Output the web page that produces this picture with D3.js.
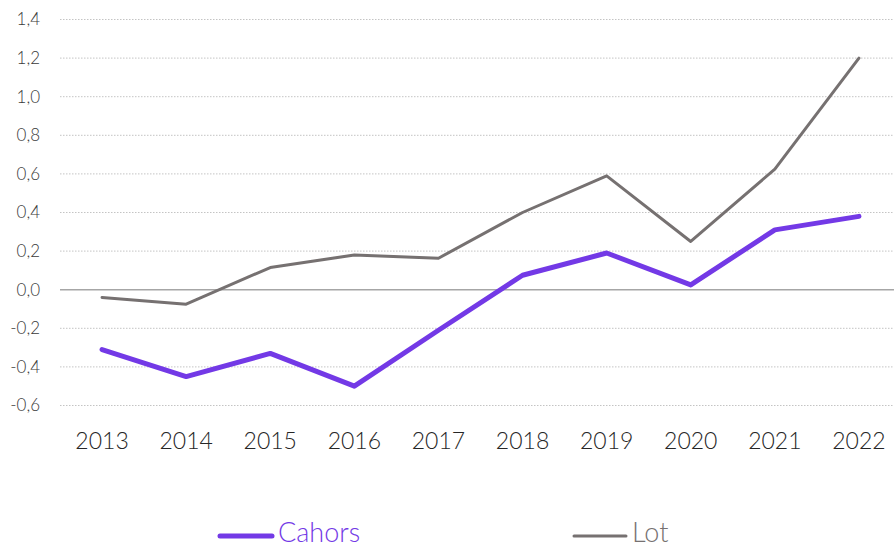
<!DOCTYPE html>
<html><head><meta charset="utf-8">
<script src="https://cdn.jsdelivr.net/npm/d3@7/dist/d3.min.js"></script>
<style>
body{margin:0;background:#fff;}
svg{display:block;font-family:"Lato","Open Sans",sans-serif;}
</style></head>
<body><svg id="c" width="894" height="548"></svg>
<script>
const years = ["2013","2014","2015","2016","2017","2018","2019","2020","2021","2022"];
const cahors = [-0.31,-0.45,-0.33,-0.50,-0.21,0.075,0.19,0.025,0.31,0.38];
const lot = [-0.04,-0.075,0.115,0.18,0.163,0.40,0.59,0.25,0.625,1.20];
const yTicks = [-0.6,-0.4,-0.2,0.0,0.2,0.4,0.6,0.8,1.0,1.2,1.4];
const seriesNames = ["Cahors","Lot"];

const svg = d3.select("#c");
const x = d3.scaleBand().domain(years).range([60,901]);
const y = d3.scaleLinear().domain([-0.6,1.4]).range([405.5,19.5]);
const fmt = d => d3.format(".1f")(d).replace(".",",").replace("−","-");

// gridlines
svg.append("g").selectAll("line").data(yTicks.filter(d=>d!==0)).join("line")
  .attr("x1",60).attr("x2",894).attr("y1",d=>y(d)).attr("y2",d=>y(d))
  .attr("stroke","#c4c4c4").attr("stroke-width",1).attr("stroke-dasharray","1.5,1.5");
svg.append("line").attr("x1",60).attr("x2",894).attr("y1",y(0)).attr("y2",y(0))
  .attr("stroke","#a6a6a6").attr("stroke-width",1.5);

// y axis
const yAxis = d3.axisLeft(y).tickValues(yTicks).tickFormat(fmt).tickSize(0).tickPadding(0);
const ga = svg.append("g").attr("transform","translate(40,0)").call(yAxis);
ga.select(".domain").remove();
ga.selectAll("text").attr("font-size",17).attr("fill","#3a3a3a").attr("font-family","Lato").attr("font-weight",300);

// x axis
const xAxis = d3.axisBottom(x).tickSize(0).tickPadding(0);
const gx = svg.append("g").attr("transform","translate(0,433)").call(xAxis);
gx.select(".domain").remove();
gx.selectAll("text").attr("font-size",23).attr("fill","#262626").attr("font-family","Lato").attr("font-weight",300);

const line = d3.line().x((d,i)=>x(years[i])+x.bandwidth()/2).y(d=>y(d));
svg.append("path").datum(lot).attr("d",line).attr("fill","none")
  .attr("stroke","#767171").attr("stroke-width",3).attr("stroke-linejoin","round").attr("stroke-linecap","round");
svg.append("path").datum(cahors).attr("d",line).attr("fill","none")
  .attr("stroke","#7339e6").attr("stroke-width",5).attr("stroke-linejoin","round").attr("stroke-linecap","round");

// legend
const leg = [{name:seriesNames[0],c:"#7339e6",w:5,x:220},{name:seriesNames[1],c:"#767171",w:3,x:574}];
const lg = svg.append("g").selectAll("g").data(leg).join("g").attr("transform",d=>`translate(${d.x},536)`);
lg.append("line").attr("x1",0).attr("x2",52).attr("stroke",d=>d.c).attr("stroke-width",d=>d.w).attr("stroke-linecap","round");
lg.append("text").attr("x",58).attr("y",6).text(d=>d.name).attr("fill",d=>d.c)
  .attr("font-size",27).attr("font-family","Lato").attr("font-weight",300);
</script></body></html>
